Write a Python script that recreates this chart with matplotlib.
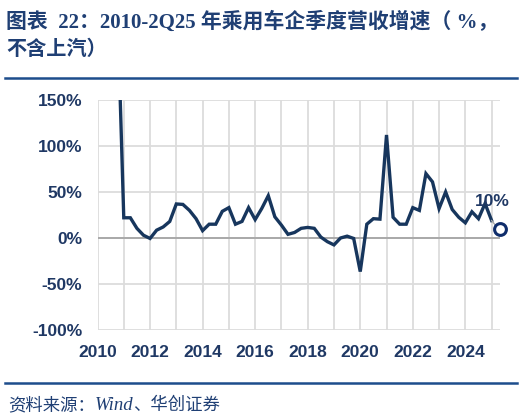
import matplotlib
matplotlib.use("Agg")
import matplotlib.pyplot as plt
import numpy as np

# ---- data (quarterly revenue growth, %) ----
quarters = ["2010Q4",
            "2011Q1", "2011Q2", "2011Q3", "2011Q4",
            "2012Q1", "2012Q2", "2012Q3", "2012Q4",
            "2013Q1", "2013Q2", "2013Q3", "2013Q4",
            "2014Q1", "2014Q2", "2014Q3", "2014Q4",
            "2015Q1", "2015Q2", "2015Q3", "2015Q4",
            "2016Q1", "2016Q2", "2016Q3", "2016Q4",
            "2017Q1", "2017Q2", "2017Q3", "2017Q4",
            "2018Q1", "2018Q2", "2018Q3", "2018Q4",
            "2019Q1", "2019Q2", "2019Q3", "2019Q4",
            "2020Q1", "2020Q2", "2020Q3", "2020Q4",
            "2021Q1", "2021Q2", "2021Q3", "2021Q4",
            "2022Q1", "2022Q2", "2022Q3", "2022Q4",
            "2023Q1", "2023Q2", "2023Q3", "2023Q4",
            "2024Q1", "2024Q2", "2024Q3", "2024Q4",
            "2025Q1", "2025Q2"]
growth = [260,
          22, 22, 10.5, 3,
          -0.5, 8.5, 12, 18,
          37, 36.5, 30, 21,
          8, 15, 15, 29,
          33, 15, 18, 33,
          20, 32, 46, 23,
          14, 4, 6, 10.5,
          11.5, 10.5, 1, -4,
          -7.5, 0, 2, -0.5,
          -36.5, 15, 21, 20.5,
          112, 22.5, 15, 15,
          33, 30, 70, 61,
          32, 50, 31, 22.5,
          16.5, 28.5, 21, 37.5,
          19, 10]
last_label = "10%"
x_ticks = [2010, 2012, 2014, 2016, 2018, 2020, 2022, 2024]
y_ticks = [-100, -50, 0, 50, 100, 150]

title_l1 = "图表  22：2010-2Q25 年乘用车企季度营收增速（ %，"
title_l2 = "不含上汽）"
source_a = "资料来源："
source_b = "Wind"
source_c = "、华创证券"

def qpos(q):
    return int(q[:4]) + (int(q[-1]) - 1) / 4.0

xs = np.array([qpos(q) for q in quarters])
ys = np.array(growth, dtype=float)

navy = "#17365D"
txt = "#1F3864"
title_c = "#1F3F74"
rule = "#1D4D8C"
cjk = ["Noto Sans CJK SC", "DejaVu Sans"]
serif_cjk = ["Liberation Serif", "Noto Sans CJK SC"]

fig = plt.figure(figsize=(5.24, 4.19), dpi=100)
ax = fig.add_axes([97.5 / 524, 1 - 330 / 419, (499.5 - 97.5) / 524, 230 / 419])

ax.set_xlim(2010, 2025.3)
ax.set_ylim(-100, 150)
ax.set_xticks(np.arange(2010, 2026))
ax.set_xticklabels([str(y) if y in x_ticks else "" for y in range(2010, 2026)])
ax.set_yticks(y_ticks)
ax.set_yticklabels([f"{v}%" for v in y_ticks])
ax.grid(True, color="#DCDCDC", linewidth=1.3)
ax.set_axisbelow(True)
ax.axhline(0, color="#A0A0A0", linewidth=1.2, zorder=1)
for s in ax.spines.values():
    s.set_visible(False)
ax.tick_params(length=0, labelsize=12.5, labelcolor=txt, pad=11)
for lab in ax.get_xticklabels() + ax.get_yticklabels():
    lab.set_fontfamily("Liberation Sans")
    lab.set_fontweight("bold")

ax.plot(xs[:-1], ys[:-1], color=navy, linewidth=2.4, solid_joinstyle="miter", zorder=3)
ax.plot(xs[-2:], ys[-2:], color="#A6A6A6", linewidth=1.0, zorder=3)
ax.plot(xs[-1] + 0.05, ys[-1], marker="o", markersize=8.5, markerfacecolor="white",
        markeredgecolor="#0F2D6B", markeredgewidth=2.2, clip_on=False, zorder=4)
ax.text(xs[-1] - 0.22, ys[-1] + 22, last_label, ha="center", va="bottom",
        fontsize=12.5, fontweight="bold", color=txt, fontfamily="Liberation Sans", zorder=5)

fig.text(6 / 524, 1 - 22 / 419, title_l1, ha="left", va="center", fontsize=15,
         fontweight="bold", color=title_c, family=serif_cjk)
fig.text(6 / 524, 1 - 50 / 419, title_l2, ha="left", va="center", fontsize=14.5,
         fontweight="bold", color=title_c, family=serif_cjk)
fig.add_artist(plt.Line2D([5 / 524, 517 / 524], [1 - 78 / 419] * 2, color=rule, linewidth=1.8))
fig.add_artist(plt.Line2D([5 / 524, 517 / 524], [1 - 383 / 419] * 2, color=rule, linewidth=1.8))

t1 = fig.text(8 / 524, 1 - 405 / 419, source_a, ha="left", va="center", fontsize=12.5,
              color=title_c, family=cjk)
fig.canvas.draw()
r = fig.canvas.get_renderer()
bb = t1.get_window_extent(r)
t2 = fig.text(bb.x1 / fig.bbox.width, 1 - 405 / 419, source_b, ha="left", va="center",
              fontsize=13.5, style="italic", color=title_c, family="Liberation Serif")
bb2 = t2.get_window_extent(r)
fig.text(bb2.x1 / fig.bbox.width, 1 - 405 / 419, source_c, ha="left", va="center",
         fontsize=12.5, color=title_c, family=cjk)

fig.savefig("out.png", dpi=100)
